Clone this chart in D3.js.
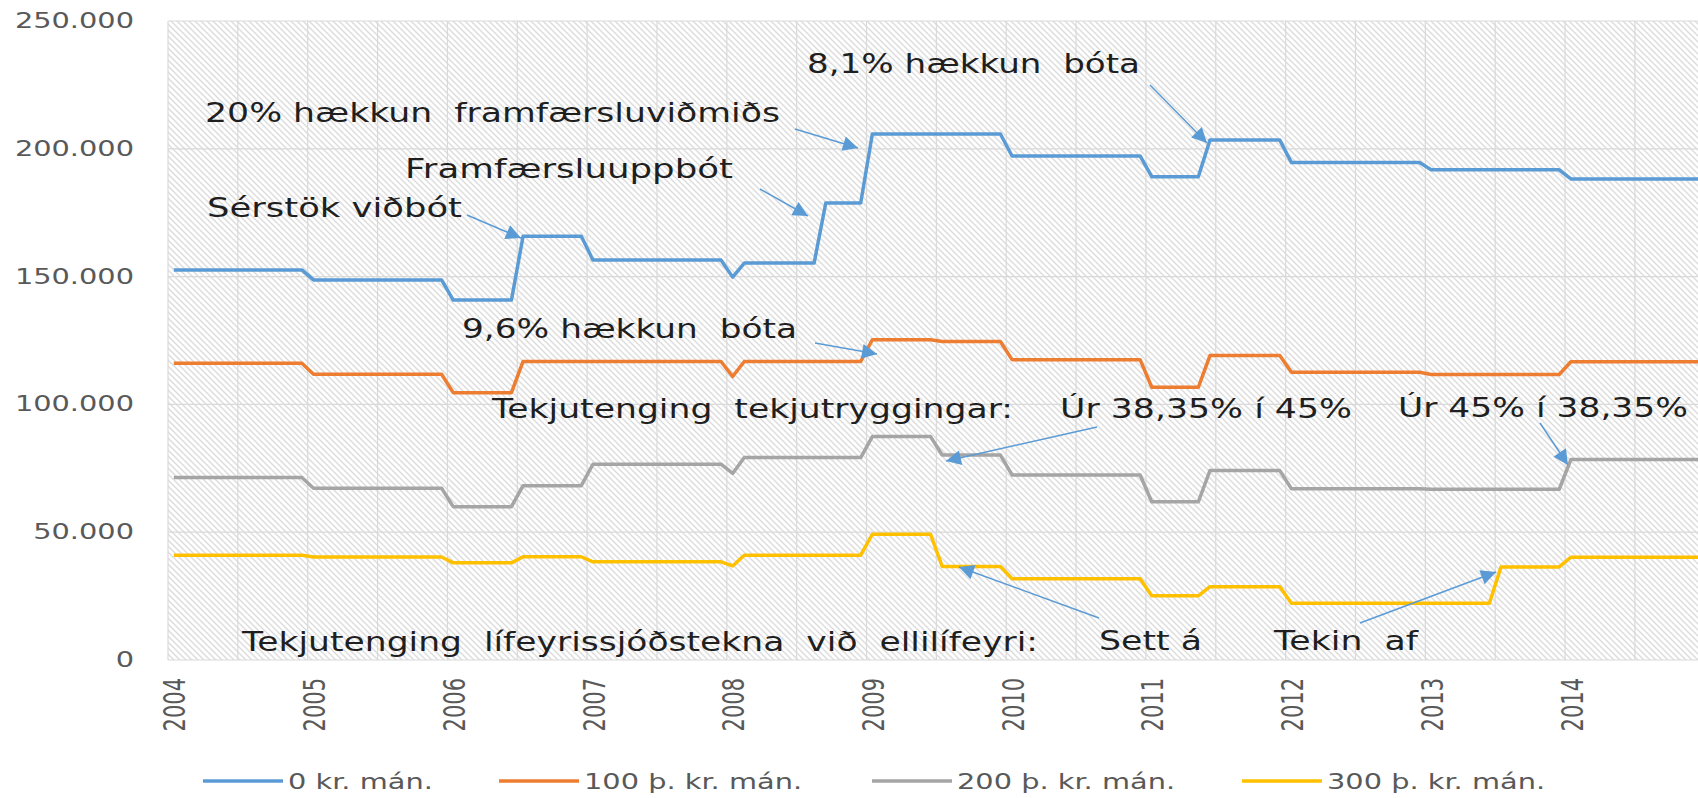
<!DOCTYPE html>
<html>
<head>
<meta charset="utf-8">
<script src="https://cdn.jsdelivr.net/npm/d3@7"></script>
<style>
  body { margin: 0; background: #fff; }
  svg text { font-family: "DejaVu Sans", Verdana, sans-serif; white-space: pre; }
</style>
</head>
<body>
<svg class="chart" width="1698" height="798"></svg>
<script>
// monthly values jan 2004 - dec 2014, one row per year
var kr0 = [
  152600,152600,152600,152600,152600,152600,152600,152600,152600,152600,152600,152600,
  148700,148700,148700,148700,148700,148700,148700,148700,148700,148700,148700,148700,
  140800,140800,140800,140800,140800,140800,165800,165800,165800,165800,165800,165800,
  156500,156500,156500,156500,156500,156500,156500,156500,156500,156500,156500,156500,
  149800,155300,155300,155300,155300,155300,155300,155300,178800,178800,178800,178800,
  205800,205800,205800,205800,205800,205800,205800,205800,205800,205800,205800,205800,
  197200,197200,197200,197200,197200,197200,197200,197200,197200,197200,197200,197200,
  189100,189100,189100,189100,189100,203400,203400,203400,203400,203400,203400,203400,
  194600,194600,194600,194600,194600,194600,194600,194600,194600,194600,194600,194600,
  191800,191800,191800,191800,191800,191800,191800,191800,191800,191800,191800,191800,
  188200,188200,188200,188200,188200,188200,188200,188200,188200,188200,188200,188200
];
var kr100 = [
  116100,116100,116100,116100,116100,116100,116100,116100,116100,116100,116100,116100,
  111800,111800,111800,111800,111800,111800,111800,111800,111800,111800,111800,111800,
  104600,104600,104600,104600,104600,104600,116800,116800,116800,116800,116800,116800,
  116800,116800,116800,116800,116800,116800,116800,116800,116800,116800,116800,116800,
  110900,116800,116800,116800,116800,116800,116800,116800,116800,116800,116800,116800,
  125300,125300,125300,125300,125300,125300,124600,124600,124600,124600,124600,124600,
  117500,117500,117500,117500,117500,117500,117500,117500,117500,117500,117500,117500,
  106700,106700,106700,106700,106700,119100,119100,119100,119100,119100,119100,119100,
  112600,112600,112600,112600,112600,112600,112600,112600,112600,112600,112600,112600,
  111700,111700,111700,111700,111700,111700,111700,111700,111700,111700,111700,111700,
  116700,116700,116700,116700,116700,116700,116700,116700,116700,116700,116700,116700
];
var kr200 = [
  71400,71400,71400,71400,71400,71400,71400,71400,71400,71400,71400,71400,
  67200,67200,67200,67200,67200,67200,67200,67200,67200,67200,67200,67200,
  60000,60000,60000,60000,60000,60000,68200,68200,68200,68200,68200,68200,
  76600,76600,76600,76600,76600,76600,76600,76600,76600,76600,76600,76600,
  73000,79200,79200,79200,79200,79200,79200,79200,79200,79200,79200,79200,
  87400,87400,87400,87400,87400,87400,80200,80200,80200,80200,80200,80200,
  72400,72400,72400,72400,72400,72400,72400,72400,72400,72400,72400,72400,
  61900,61900,61900,61900,61900,74100,74100,74100,74100,74100,74100,74100,
  67000,67000,67000,67000,67000,67000,67000,67000,67000,67000,67000,67000,
  66800,66800,66800,66800,66800,66800,66800,66800,66800,66800,66800,66800,
  78400,78400,78400,78400,78400,78400,78400,78400,78400,78400,78400,78400
];
var kr300 = [
  41000,41000,41000,41000,41000,41000,41000,41000,41000,41000,41000,41000,
  40300,40300,40300,40300,40300,40300,40300,40300,40300,40300,40300,40300,
  38000,38000,38000,38000,38000,38000,40400,40400,40400,40400,40400,40400,
  38400,38400,38400,38400,38400,38400,38400,38400,38400,38400,38400,38400,
  36800,41000,41000,41000,41000,41000,41000,41000,41000,41000,41000,41000,
  49200,49200,49200,49200,49200,49200,36600,36600,36600,36600,36600,36600,
  31800,31800,31800,31800,31800,31800,31800,31800,31800,31800,31800,31800,
  25100,25100,25100,25100,25100,28700,28700,28700,28700,28700,28700,28700,
  22200,22200,22200,22200,22200,22200,22200,22200,22200,22200,22200,22200,
  22200,22200,22200,22200,22200,22200,36400,36400,36400,36400,36400,36400,
  40200,40200,40200,40200,40200,40200,40200,40200,40200,40200,40200,40200
];

var seriesNames = ['0 kr. mán.', '100 þ. kr. mán.', '200 þ. kr. mán.', '300 þ. kr. mán.'];
var seriesValues = [kr0, kr100, kr200, kr300];
var colors = ['#5b9bd5', '#ed7d31', '#a5a5a5', '#ffc000'];

var yearLabels = ['2004','2005','2006','2007','2008','2009','2010','2011','2012','2013','2014'];
var yTicks = [0, 50000, 100000, 150000, 200000, 250000];
var yTickLabels = ['0', '50.000', '100.000', '150.000', '200.000', '250.000'];

var noteTexts = [
  '8,1% hækkun  bóta',
  '20% hækkun  framfærsluviðmiðs',
  'Framfærsluuppbót',
  'Sérstök viðbót',
  '9,6% hækkun  bóta',
  'Tekjutenging  tekjutryggingar:',
  'Úr 38,35% í 45%',
  'Úr 45% í 38,35%',
  'Tekjutenging  lífeyrissjóðstekna  við  ellilífeyri:',
  'Sett á',
  'Tekin  af'
];

// where each note sits: left x, baseline y, drawn width
var noteLayout = [
  [807, 73, 333], [205, 122, 575], [405, 178, 328], [207, 217, 255],
  [462, 338, 335], [492, 418, 521], [1060, 418, 292], [1398, 417, 290],
  [242, 651, 796], [1099, 650, 103], [1274, 650, 144]
];
// arrows: from [x, y] to tip [x, y]
var arrows = [
  [1150, 85, 1207, 143], [795, 129, 858, 148], [760, 189, 808, 216],
  [467, 215, 521, 238], [815, 343, 877, 354], [1097, 427, 946, 461],
  [1540, 423, 1568, 465], [1099, 618, 959, 567], [1360, 623, 1496, 572]
];

var nMonths = kr0.length;
var plot = { left: 168, top: 21, bottom: 660 };

var x = d3.scaleLinear()
  .domain([0, nMonths])
  .range([plot.left, plot.left + nMonths * 11.642]);

var y = d3.scaleLinear()
  .domain([0, 250000])
  .range([plot.bottom, plot.top]);

var svg = d3.select('svg.chart');
var defs = svg.append('defs');

// light diagonal hatch behind the plot
var pat = defs.append('pattern')
  .attr('id', 'hatch')
  .attr('patternUnits', 'userSpaceOnUse')
  .attr('width', 6)
  .attr('height', 6);
pat.append('rect').attr('width', 6).attr('height', 6).attr('fill', '#fff');
pat.append('path')
  .attr('d', 'M-1,-1 L7,7 M-1,5 L1,7 M5,-1 L7,1')
  .attr('stroke', '#dcdcdc')
  .attr('stroke-width', 1.4);

defs.append('marker')
  .attr('id', 'head')
  .attr('viewBox', '0 0 10 10')
  .attr('refX', 10)
  .attr('refY', 5)
  .attr('markerUnits', 'userSpaceOnUse')
  .attr('markerWidth', 17)
  .attr('markerHeight', 15)
  .attr('orient', 'auto')
  .append('path')
    .attr('d', 'M0,0 L10,5 L0,10 z')
    .attr('fill', '#5b9bd5');

var plotRight = 1698;

svg.append('rect')
  .attr('x', plot.left)
  .attr('y', plot.top)
  .attr('width', plotRight - plot.left)
  .attr('height', plot.bottom - plot.top)
  .attr('fill', 'url(#hatch)');

// gridlines, every 6 months and every 50.000
svg.append('g')
  .selectAll('line')
  .data(d3.range(0, nMonths, 6))
  .enter()
    .append('line')
      .attr('x1', function(d) { return x(d); })
      .attr('x2', function(d) { return x(d); })
      .attr('y1', plot.top)
      .attr('y2', plot.bottom)
      .attr('stroke', '#d9d9d9')
      .attr('stroke-width', 1.2);

svg.append('g')
  .selectAll('line')
  .data(yTicks)
  .enter()
    .append('line')
      .attr('x1', plot.left)
      .attr('x2', plotRight)
      .attr('y1', function(d) { return y(d); })
      .attr('y2', function(d) { return y(d); })
      .attr('stroke', '#d9d9d9')
      .attr('stroke-width', 1.2);

// y tick labels, drawn a bit wide like the original
svg.append('g')
  .selectAll('text')
  .data(yTicks)
  .enter()
    .append('text')
      .attr('transform', function(d) { return 'translate(134,' + (y(d) + 7) + ') scale(1.31,1)'; })
      .attr('text-anchor', 'end')
      .attr('font-size', 22)
      .attr('fill', '#595959')
      .text(function(d, i) { return yTickLabels[i]; });

// year labels, rotated
svg.append('g')
  .selectAll('text')
  .data(yearLabels)
  .enter()
    .append('text')
      .attr('transform', function(d, i) {
        return 'translate(' + (x(i * 12) + 7) + ',678) scale(1.45,1) rotate(-90)';
      })
      .attr('text-anchor', 'end')
      .attr('dominant-baseline', 'central')
      .attr('font-size', 21)
      .attr('fill', '#595959')
      .text(function(d) { return d; });

var line = d3.line()
  .x(function(d, i) { return x(i + 0.5); })
  .y(function(d) { return y(d); });

svg.append('g')
  .selectAll('path')
  .data(seriesValues)
  .enter()
    .append('path')
      .attr('d', line)
      .attr('fill', 'none')
      .attr('stroke', function(d, i) { return colors[i]; })
      .attr('stroke-width', 3.5)
      .attr('stroke-linejoin', 'round');

// annotations
svg.append('g')
  .selectAll('line')
  .data(arrows)
  .enter()
    .append('line')
      .attr('x1', function(d) { return d[0]; })
      .attr('y1', function(d) { return d[1]; })
      .attr('x2', function(d) { return d[2]; })
      .attr('y2', function(d) { return d[3]; })
      .attr('stroke', '#5b9bd5')
      .attr('stroke-width', 1.5)
      .attr('marker-end', 'url(#head)');

svg.append('g')
  .selectAll('text')
  .data(noteTexts)
  .enter()
    .append('text')
      .attr('x', function(d, i) { return noteLayout[i][0]; })
      .attr('y', function(d, i) { return noteLayout[i][1]; })
      .attr('textLength', function(d, i) { return noteLayout[i][2]; })
      .attr('lengthAdjust', 'spacingAndGlyphs')
      .attr('font-size', 26)
      .attr('fill', '#1f1f1f')
      .text(function(d) { return d; });

// legend
var legendX = [203, 499, 872, 1242];
var legend = svg.append('g')
  .selectAll('g')
  .data(seriesNames)
  .enter()
    .append('g')
      .attr('transform', function(d, i) { return 'translate(' + legendX[i] + ',781)'; });

legend.append('line')
  .attr('x1', 0)
  .attr('x2', 80)
  .attr('stroke', function(d, i) { return colors[i]; })
  .attr('stroke-width', 3.5);

legend.append('text')
  .attr('transform', 'translate(85,8) scale(1.31,1)')
  .attr('font-size', 22)
  .attr('fill', '#595959')
  .text(function(d) { return d; });
</script>
</body>
</html>
